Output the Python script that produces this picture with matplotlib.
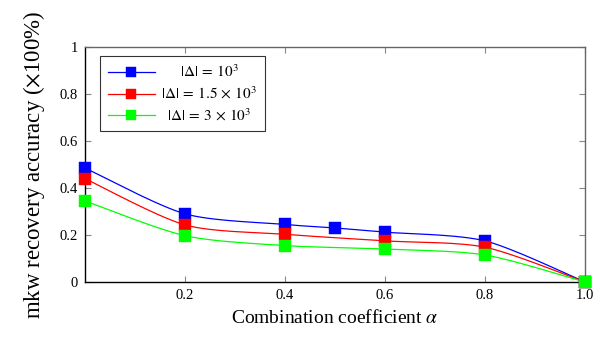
import numpy as np
import matplotlib
matplotlib.use("Agg")
import matplotlib.pyplot as plt

plt.rcParams['font.family'] = ['Liberation Serif', 'DejaVu Serif']
plt.rcParams['mathtext.fontset'] = 'stix'

x_blue = [0.0, 0.2, 0.4, 0.5, 0.6, 0.8, 1.0]
y_blue = [0.485, 0.29, 0.245, 0.23, 0.212, 0.175, 0.0]
x_red = [0.0, 0.2, 0.4, 0.6, 0.8, 1.0]
y_red = [0.44, 0.243, 0.203, 0.175, 0.148, 0.0]
x_green = [0.0, 0.2, 0.4, 0.6, 0.8, 1.0]
y_green = [0.345, 0.197, 0.155, 0.14, 0.115, 0.0]
labels = [r'$|\Delta|\:=\:10^3$', r'$|\Delta|\:=\:1.5\,\times\,10^3$', r'$|\Delta|\:=\:3\,\times\,10^3$']
colors = ['#0000ff', '#ff0000', '#00ff00']
xticks = [0.2, 0.4, 0.6, 0.8, 1.0]
xticklabels = ['0.2', '0.4', '0.6', '0.8', '1.0']
yticks = [0, 0.2, 0.4, 0.6, 0.8, 1]
yticklabels = ['0', '0.2', '0.4', '0.6', '0.8', '1']


def smooth(xs, ys, tension=0.4, n=30):
    # cubic Bezier smoothing through points (like TikZ "smooth")
    P = np.column_stack([xs, ys]).astype(float)
    out = [P[0]]
    k = tension / 3.0
    for i in range(len(P) - 1):
        p0 = P[i - 1] if i > 0 else P[i]
        p1, p2 = P[i], P[i + 1]
        p3 = P[i + 2] if i + 2 < len(P) else P[i + 1]
        c1 = p1 + k * (p2 - p0)
        c2 = p2 - k * (p3 - p1)
        t = np.linspace(0, 1, n)[1:, None]
        seg = ((1 - t) ** 3) * p1 + 3 * ((1 - t) ** 2) * t * c1 + 3 * (1 - t) * t ** 2 * c2 + t ** 3 * p2
        out.extend(seg)
    out = np.array(out)
    return out[:, 0], out[:, 1]


fig = plt.figure(figsize=(6.0, 3.39), dpi=100)
ax = fig.add_axes([85 / 600, 1 - 282 / 339, 500 / 600, 235 / 339])

series = [(x_blue, y_blue), (x_red, y_red), (x_green, y_green)]
for (xs, ys), c in zip(series, colors):
    sx, sy = smooth(xs, ys)
    ax.plot(sx, sy, color=c, lw=0.9, zorder=2)
for (xs, ys), c in zip(series, colors):
    ax.plot(xs, ys, ls='none', marker='s', ms=8.3, mew=0.3, color=c, mec=c, zorder=3, clip_on=False)
handles = [plt.Line2D([], [], color=c, lw=0.9, marker='s', ms=7.2, mew=0.3, mec=c) for c in colors]

ax.set_xlim(0, 1.0)
ax.set_ylim(0, 1)
ax.set_xticks(xticks)
ax.set_xticklabels(xticklabels)
ax.set_yticks(yticks)
ax.set_yticklabels(yticklabels)
ax.tick_params(direction='in', top=True, right=True, length=4, color='#888888', labelsize=10.5, pad=5)
for s in ax.spines.values():
    s.set_color('#666666')
    s.set_linewidth(1.0)
ax.spines['bottom'].set_color('black')
ax.spines['left'].set_color('black')

ax.set_xlabel(r'Combination coefficient $\alpha$', fontsize=14, labelpad=5)
ax.set_ylabel(r'mkw recovery accuracy ($\times$100%)', fontsize=16.5, labelpad=9)

leg = ax.legend(handles, labels, loc='upper left', bbox_to_anchor=(0.03, 0.962), fontsize=11,
                handlelength=3.1, frameon=True, fancybox=False, edgecolor='black',
                borderpad=0.5, labelspacing=0.35, handletextpad=0.4, borderaxespad=0)
leg.get_frame().set_linewidth(0.8)

# center legend texts within their column
fig.canvas.draw()
r = fig.canvas.get_renderer()
texts = leg.get_texts()
ws = [t.get_window_extent(r).width for t in texts]
wmax = max(ws)
for t, w in zip(texts, ws):
    t.set_position(((wmax - w) / 2.0, 0))

fig.savefig('out.png', dpi=100)
